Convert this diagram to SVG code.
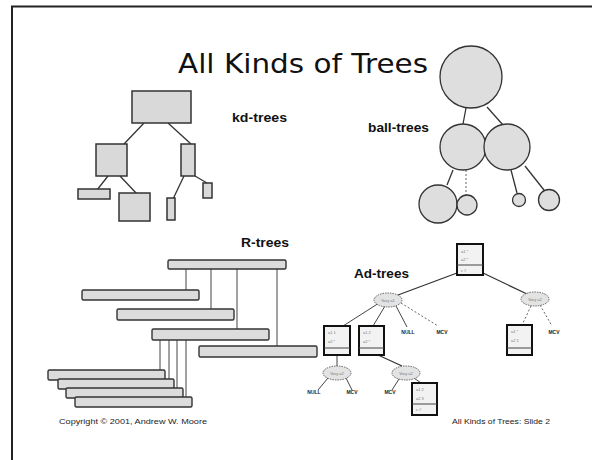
<svg xmlns="http://www.w3.org/2000/svg" width="592" height="460" viewBox="0 0 592 460">
  <style>
    .frame { stroke: #222; stroke-width: 2; fill: none; }
    .title { font-family: "DejaVu Sans", Verdana, sans-serif; font-size: 27px; fill: #111; }
    .lbl { font-family: "Liberation Sans", Arial, sans-serif; font-size: 12.5px; font-weight: bold; fill: #111; }
    .foot { font-family: "Liberation Sans", Arial, sans-serif; font-size: 6.5px; fill: #222; }
    .tiny { font-family: "Liberation Sans", Arial, sans-serif; font-size: 5px; font-weight: bold; fill: #222; }
    .inner { font-family: "Liberation Sans", Arial, sans-serif; font-size: 4px; fill: #777; }
    .box { fill: #d9d9d9; stroke: #333; stroke-width: 1.5; }
    .ball { fill: #dedede; stroke: #333; stroke-width: 1.3; }
    .bar { fill: #dcdcdc; stroke: #333; stroke-width: 1.4; }
    .adnode { fill: #f2f2f2; stroke: #111; stroke-width: 2; }
    .vary { fill: #e3e3e3; stroke: #555; stroke-width: 0.9; stroke-dasharray: 1.5 1; }
    .edge { stroke: #333; stroke-width: 1.3; fill: none; }
    .thin { stroke: #444; stroke-width: 1; fill: none; }
    .dot { stroke: #666; stroke-width: 1; fill: none; stroke-dasharray: 2 2; }
  </style>

  <!-- slide frame -->
  <path class="frame" d="M12 460 V6.5 H592"/>

  <text class="title" x="178" y="73" textLength="250" lengthAdjust="spacingAndGlyphs">All Kinds of Trees</text>

  <!-- kd-tree -->
  <g id="kd-edges">
    <line class="edge" x1="144" y1="123" x2="124" y2="144"/>
    <line class="edge" x1="168" y1="123" x2="191" y2="144"/>
    <line class="edge" x1="108" y1="176" x2="97" y2="190"/>
    <line class="edge" x1="120" y1="176" x2="137" y2="194"/>
    <line class="edge" x1="184" y1="176" x2="173" y2="199"/>
    <line class="edge" x1="195" y1="176" x2="207" y2="183"/>
  </g>
  <g id="kd-root"><rect class="box" x="132" y="91" width="59" height="32"/></g>
  <g id="kd-left"><rect class="box" x="96" y="144" width="31" height="32"/></g>
  <g id="kd-right"><rect class="box" x="181" y="144" width="14" height="32"/></g>
  <g id="kd-leaf1"><rect class="box" x="78" y="189" width="32" height="10"/></g>
  <g id="kd-leaf2"><rect class="box" x="119" y="193" width="31" height="28"/></g>
  <g id="kd-leaf3"><rect class="box" x="167" y="198" width="8" height="22"/></g>
  <g id="kd-leaf4"><rect class="box" x="203" y="183" width="9" height="15"/></g>
  <text class="lbl" x="232" y="122" textLength="55" lengthAdjust="spacingAndGlyphs">kd-trees</text>

  <!-- ball-tree -->
  <g id="ball-edges">
    <line class="edge" x1="466" y1="108" x2="463" y2="124"/>
    <line class="edge" x1="487" y1="107" x2="503" y2="125"/>
    <line class="edge" x1="453" y1="170" x2="447" y2="185"/>
    <line class="dot" x1="466" y1="170" x2="466" y2="195"/>
    <line class="edge" x1="511" y1="170" x2="517" y2="193"/>
    <line class="edge" x1="525" y1="166" x2="544" y2="190"/>
  </g>
  <g id="ball-root"><circle class="ball" cx="471" cy="77" r="31"/></g>
  <g id="ball-midleft"><circle class="ball" cx="463" cy="147" r="23"/></g>
  <g id="ball-midright"><circle class="ball" cx="507" cy="147" r="23"/></g>
  <g id="ball-leaf1"><circle class="ball" cx="438" cy="204" r="19"/></g>
  <g id="ball-leaf2"><circle class="ball" cx="467" cy="205" r="10"/></g>
  <g id="ball-leaf3"><circle class="ball" cx="519" cy="200" r="6.5"/></g>
  <g id="ball-leaf4"><circle class="ball" cx="549" cy="200" r="10.5"/></g>
  <text class="lbl" x="368" y="132" textLength="61" lengthAdjust="spacingAndGlyphs">ball-trees</text>

  <!-- R-tree -->
  <g id="r-edges">
    <line class="thin" x1="186" y1="269" x2="186" y2="290"/>
    <line class="thin" x1="211" y1="269" x2="211" y2="309"/>
    <line class="thin" x1="237" y1="269" x2="237" y2="329"/>
    <line class="thin" x1="277" y1="269" x2="277" y2="346"/>
    <line class="thin" x1="160" y1="340" x2="160" y2="370"/>
    <line class="thin" x1="169" y1="340" x2="169" y2="379"/>
    <line class="thin" x1="177" y1="340" x2="177" y2="388"/>
    <line class="thin" x1="186" y1="340" x2="186" y2="397"/>
  </g>
  <g id="r-root"><rect class="bar" x="168" y="260" width="118" height="9" rx="1.5"/></g>
  <g id="r-b1"><rect class="bar" x="82" y="290" width="117" height="10" rx="1.5"/></g>
  <g id="r-b2"><rect class="bar" x="117" y="309" width="117" height="11" rx="1.5"/></g>
  <g id="r-b3"><rect class="bar" x="152" y="329" width="117" height="11" rx="1.5"/></g>
  <g id="r-b4"><rect class="bar" x="199" y="346" width="118" height="11" rx="1.5"/></g>
  <g id="r-leaf1"><rect class="bar" x="48" y="370" width="117" height="10" rx="1.5"/></g>
  <g id="r-leaf2"><rect class="bar" x="58" y="379" width="116" height="10" rx="1.5"/></g>
  <g id="r-leaf3"><rect class="bar" x="66" y="388" width="117" height="10" rx="1.5"/></g>
  <g id="r-leaf4"><rect class="bar" x="75" y="397" width="117" height="10" rx="1.5"/></g>
  <text class="lbl" x="241" y="247" textLength="48" lengthAdjust="spacingAndGlyphs">R-trees</text>

  <!-- AD-tree -->
  <g id="ad-edges">
    <line class="edge" x1="457" y1="273" x2="398" y2="295"/>
    <line class="edge" x1="483" y1="273" x2="527" y2="294"/>
    <line class="thin" x1="379" y1="303" x2="343" y2="326"/>
    <line class="thin" x1="385" y1="306" x2="373" y2="326"/>
    <line class="thin" x1="396" y1="306" x2="407" y2="327"/>
    <line class="dot" x1="401" y1="303" x2="438" y2="326"/>
    <line class="dot" x1="531" y1="306" x2="522" y2="325"/>
    <line class="dot" x1="540" y1="305" x2="552" y2="326"/>
    <line class="thin" x1="337" y1="355" x2="337" y2="366"/>
    <line class="thin" x1="328" y1="378" x2="318" y2="390"/>
    <line class="thin" x1="346" y1="378" x2="352" y2="390"/>
    <line class="edge" x1="378" y1="355" x2="402" y2="366"/>
    <line class="thin" x1="399" y1="379" x2="392" y2="390"/>
    <line class="thin" x1="414" y1="378" x2="421" y2="383"/>
  </g>

  <g id="ad-root">
    <rect class="adnode" x="457" y="244" width="26" height="31"/>
    <line class="thin" x1="457" y1="265" x2="483" y2="265"/>
    <text class="inner" x="461" y="253">a1 *</text>
    <text class="inner" x="461" y="261">a2 *</text>
    <text class="inner" x="461" y="272">c #</text>
  </g>
  <g id="ad-vary1">
    <ellipse class="vary" cx="388" cy="300" rx="14" ry="7"/>
    <text class="inner" x="388" y="301.5" text-anchor="middle">Vary a1</text>
  </g>
  <g id="ad-vary2">
    <ellipse class="vary" cx="535" cy="299" rx="14" ry="7"/>
    <text class="inner" x="535" y="300.5" text-anchor="middle">Vary a2</text>
  </g>
  <g id="ad-node1">
    <rect class="adnode" x="324" y="326" width="26" height="29"/>
    <line class="thin" x1="324" y1="348" x2="350" y2="348"/>
    <text class="inner" x="328" y="334">a1 1</text>
    <text class="inner" x="328" y="343">a2 *</text>
  </g>
  <g id="ad-node2">
    <rect class="adnode" x="359" y="326" width="25" height="29"/>
    <line class="thin" x1="359" y1="348" x2="384" y2="348"/>
    <text class="inner" x="363" y="334">a1 2</text>
    <text class="inner" x="363" y="343">a2 *</text>
  </g>
  <g id="ad-node3">
    <rect class="adnode" x="507" y="325" width="25" height="30"/>
    <line class="thin" x1="507" y1="348" x2="532" y2="348"/>
    <text class="inner" x="511" y="333">a1 *</text>
    <text class="inner" x="511" y="342">a2 1</text>
  </g>
  <g id="ad-vary3">
    <ellipse class="vary" cx="337" cy="373" rx="14" ry="7"/>
    <text class="inner" x="337" y="374.5" text-anchor="middle">Vary a2</text>
  </g>
  <g id="ad-vary4">
    <ellipse class="vary" cx="406" cy="373" rx="14" ry="7"/>
    <text class="inner" x="406" y="374.5" text-anchor="middle">Vary a2</text>
  </g>
  <g id="ad-node4">
    <rect class="adnode" x="412" y="383" width="25" height="32"/>
    <line class="thin" x1="412" y1="404" x2="437" y2="404"/>
    <text class="inner" x="416" y="391">a1 2</text>
    <text class="inner" x="416" y="400">a2 3</text>
    <text class="inner" x="416" y="411">c #</text>
  </g>

  <g id="ad-leaves">
    <text class="tiny" x="408" y="334" text-anchor="middle">NULL</text>
    <text class="tiny" x="442" y="334" text-anchor="middle">MCV</text>
    <text class="tiny" x="554" y="334" text-anchor="middle">MCV</text>
    <text class="tiny" x="314" y="394" text-anchor="middle">NULL</text>
    <text class="tiny" x="352" y="394" text-anchor="middle">MCV</text>
    <text class="tiny" x="390" y="394" text-anchor="middle">MCV</text>
  </g>
  <text class="lbl" x="354" y="278" textLength="55" lengthAdjust="spacingAndGlyphs">Ad-trees</text>

  <!-- footers -->
  <text class="foot" x="59" y="424" textLength="148" lengthAdjust="spacingAndGlyphs">Copyright © 2001, Andrew W. Moore</text>
  <text class="foot" x="452" y="424" textLength="98" lengthAdjust="spacingAndGlyphs">All Kinds of Trees: Slide 2</text>
</svg>
